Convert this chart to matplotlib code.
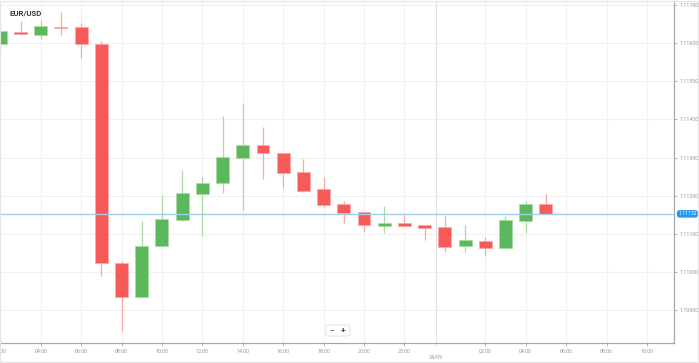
import matplotlib.pyplot as plt
import numpy as np
from matplotlib.patches import FancyBboxPatch, Rectangle

plt.rcParams["font.family"] = ["Roboto", "DejaVu Sans"]

# hourly candles, x in hours from 00:00 on 23/09 (24 = 00:00 on 24/09)
HOURS = list(range(2, 30))
OPEN = [1.11599, 1.11630, 1.11623, 1.11643, 1.11642, 1.11598, 1.11024, 1.10933,
        1.11067, 1.11137, 1.11205, 1.11234, 1.11300, 1.11332, 1.11311, 1.11262,
        1.11216, 1.11177, 1.11156, 1.11121, 1.11129, 1.11123, 1.11117, 1.11067,
        1.11082, 1.11063, 1.11133, 1.11178]
HIGH = [1.11648, 1.11658, 1.11661, 1.11681, 1.11652, 1.11605, 1.11029, 1.11134,
        1.11201, 1.11267, 1.11248, 1.11410, 1.11444, 1.11380, 1.11312, 1.11295,
        1.11248, 1.11186, 1.11156, 1.11172, 1.11151, 1.11123, 1.11146, 1.11123,
        1.11092, 1.11146, 1.11186, 1.11204]
LOW = [1.11577, 1.11621, 1.11610, 1.11623, 1.11562, 1.10989, 1.10844, 1.10932,
       1.11064, 1.11134, 1.11094, 1.11207, 1.11162, 1.11244, 1.11221, 1.11210,
       1.11169, 1.11129, 1.11105, 1.11102, 1.11119, 1.11083, 1.11052, 1.11052,
       1.11041, 1.11063, 1.11102, 1.11148]
CLOSE = [1.11633, 1.11624, 1.11645, 1.11640, 1.11598, 1.11022, 1.10933, 1.11067,
         1.11139, 1.11207, 1.11233, 1.11302, 1.11332, 1.11312, 1.11260, 1.11213,
         1.11176, 1.11155, 1.11122, 1.11127, 1.11119, 1.11116, 1.11065, 1.11083,
         1.11063, 1.11135, 1.11177, 1.11152]

CURRENT_PRICE = 1.11152
Y_TICKS = [1.109, 1.110, 1.111, 1.112, 1.113, 1.114, 1.115, 1.116, 1.117]
X_TICKS = [2, 4, 6, 8, 10, 12, 14, 16, 18, 20, 22, 26, 28, 30, 32, 34]
X_LABELS = ["02:00", "04:00", "06:00", "08:00", "10:00", "12:00", "14:00", "16:00",
            "18:00", "20:00", "22:00", "02:00", "04:00", "06:00", "08:00", "10:00"]
DAY_MARK = 23.56
DAY_LABEL = "24/09"

UP = "#5cb85c"
DOWN = "#f85a5a"
UP_WICK = "#a9dba3"
DOWN_WICK = "#f9a8a8"
GRID = "#f1f1f1"
AXIS = "#a8a8a8"
TICK_TEXT = "#9a9a9a"

fig = plt.figure(figsize=(6.99, 3.63), dpi=100)
ax = fig.add_axes([0, 20 / 363, 674 / 699, 342 / 363])

ax.set_xlim(1.985, 35.34)
ax.set_ylim(1.108129, 1.11711)

for y in Y_TICKS:
    ax.axhline(y, color=GRID, lw=0.8, zorder=0)
for x in X_TICKS:
    ax.axvline(x, color=GRID, lw=0.8, zorder=0)
ax.axvline(DAY_MARK, color="#e2e2e2", lw=0.8, zorder=0)

width = 0.64
for h, o, hi, lo, c in zip(HOURS, OPEN, HIGH, LOW, CLOSE):
    up = c > o
    body = UP if up else DOWN
    wick = UP_WICK if up else DOWN_WICK
    ax.vlines(h, lo, hi, color=wick, lw=0.9, zorder=2)
    bottom = min(o, c)
    height = max(abs(c - o), 0.00004)
    ax.bar(h, height, width=width, bottom=bottom, color=body,
           edgecolor=wick, linewidth=0.5, zorder=3)

ax.axhline(CURRENT_PRICE, color="#9fcdee", lw=1.0, zorder=4)

ax.yaxis.tick_right()
ax.set_yticks(Y_TICKS)
ax.set_yticklabels([f"{y:.5f}" for y in Y_TICKS])
ax.set_xticks(X_TICKS)
ax.set_xticklabels(X_LABELS)
ax.tick_params(axis="both", labelsize=3.9, labelcolor=TICK_TEXT, color=AXIS,
               length=2.5, width=0.6, pad=1.5)

for side in ["left", "top"]:
    ax.spines[side].set_visible(False)
for side in ["right", "bottom"]:
    ax.spines[side].set_color(AXIS)
    ax.spines[side].set_linewidth(0.9)

# day separator label below the axis
ax.annotate(DAY_LABEL, xy=(DAY_MARK, 0), xycoords=("data", "axes fraction"),
            xytext=(0, -10), textcoords="offset points", ha="center", va="center",
            fontsize=3.9, color=TICK_TEXT)
ax.plot([DAY_MARK, DAY_MARK], [0, -0.012], transform=ax.get_xaxis_transform(),
        color=AXIS, lw=0.6, ls=":", clip_on=False)

# current price tag
ax.annotate(f"{CURRENT_PRICE:.5f}", xy=(1, CURRENT_PRICE), xycoords=("axes fraction", "data"),
            xytext=(3, 0), textcoords="offset points", ha="left", va="center",
            fontsize=3.6, color="white",
            bbox=dict(boxstyle="round,pad=0.25,rounding_size=0.5", fc="#2196f3", ec="none"))

ax.text(10 / 674, 1 - 12 / 342, "EUR/USD", transform=ax.transAxes, fontsize=5.6,
        fontweight="bold", color="#3a3a3a", ha="left", va="center")

# zoom buttons
btn = FancyBboxPatch((326 / 699, 27 / 363), 24 / 699, 11 / 363,
                     boxstyle="round,pad=0,rounding_size=0.004", transform=fig.transFigure,
                     fc="white", ec="#dddddd", lw=0.6)
fig.patches.append(btn)
fig.text(332 / 699, 32.5 / 363, "\u2212", fontsize=6, color="#444444", ha="center", va="center")
fig.text(343 / 699, 32.5 / 363, "+", fontsize=6, color="#444444", ha="center", va="center",
         fontweight="bold")

# outer frame
fig.patches.append(Rectangle((0, 0.002), 0.998, 0.996, transform=fig.transFigure,
                             fill=False, ec="#e4e4e4", lw=0.8))

fig.savefig("out.png", dpi=100)
